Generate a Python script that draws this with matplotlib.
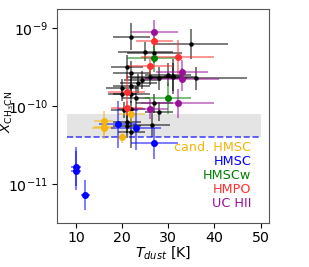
# CH3CN abundance vs dust temperature

import numpy as np
import matplotlib.pyplot as plt

# ============================================================
# 1. DATA  (x = T_dust [K], log10 abundance, xerr [K], yerr [dex])
# ============================================================

# ---- sources without class (black) ----
T_black    = [22, 35, 25, 27, 21, 22, 30, 31, 26, 28, 36, 24.4, 23.5, 22, 20,
              22, 20, 23, 27, 22, 20.5, 28, 21, 21, 26.4, 22, 31]
logX_black = [-9.115, -9.204, -9.306, -9.327, -9.50, -9.58, -9.60, -9.626, -9.626,
              -9.646, -9.646, -9.668, -9.71, -9.75, -9.77, -9.84, -9.84, -9.90,
              -9.966, -10.04, -10.05, -10.07, -10.20, -10.26, -10.24, -10.33, -9.62]
dT_black   = [4, 8, 6, 6, 3.5, 4, 5, 5, 5, 6, 11, 4, 4, 4, 3.5,
              4, 3, 3, 4, 3, 3, 3, 3, 3, 4, 3, 2]
dX_black   = [0.17, 0.19, 0.12, 0.12, 0.15, 0.15, 0.15, 0.18, 0.10, 0.15, 0.15,
              0.12, 0.12, 0.15, 0.12, 0.12, 0.10, 0.15, 0.12, 0.10, 0.10, 0.12,
              0.15, 0.15, 0.15, 0.20, 0.22]

# ---- cand. HMSC ----
T_cand    = [22, 16, 16, 16, 20]
logX_cand = [-10.10, -10.19, -10.285, -10.27, -10.40]
dT_cand   = [3, 2, 2.5, 2, 1]
dX_cand   = [0.10, 0.13, 0.13, 0.10, 0.07]

# ---- HMSC ----
T_hmsc    = [19, 23, 27, 10, 10, 12]
logX_hmsc = [-10.23, -10.285, -10.476, -10.775, -10.826, -11.137]
dT_hmsc   = [4, 5.5, 5, 1, 1, 1]
dX_hmsc   = [0.30, 0.27, 0.20, 0.25, 0.25, 0.19]

# ---- HMSCw ----
T_hmscw    = [27, 30]
logX_hmscw = [-9.39, -9.90]
dT_hmscw   = [6, 5]
dX_hmscw   = [0.17, 0.20]

# ---- HMPO ----
T_hmpo    = [27, 32, 26, 21, 21]
logX_hmpo = [-9.17, -9.37, -9.485, -9.817, -10.03]
dT_hmpo   = [4, 8, 5, 4, 3.5]
dX_hmpo   = [0.07, 0.22, 0.10, 0.21, 0.10]

# ---- UC HII ----
T_uchii    = [27, 33, 33, 32, 26]
logX_uchii = [-9.05, -9.56, -9.66, -9.966, -10.04]
dT_uchii   = [5, 5.7, 8, 8, 4]
dX_uchii   = [0.15, 0.15, 0.15, 0.18, 0.13]

# ---- model range (gray band) ----
band_T = [8, 50]
band_lo = 4.0e-11
band_hi = 8.0e-11

labels      = ["cand. HMSC", "HMSC", "HMSCw", "HMPO", "UC HII"]
label_logy  = [-10.532, -10.711, -10.89, -11.07, -11.24]

c_cand  = '#f5b50a'
c_hmsc  = 'blue'
c_hmscw = 'green'
c_hmpo  = '#ff3030'
c_uchii = '#9b109b'
label_colors = [c_cand, c_hmsc, c_hmscw, c_hmpo, c_uchii]


# ============================================================
# 2. PLOT
# ============================================================

plt.rcParams['font.size'] = 10

fig = plt.figure(figsize=(3.09, 2.67), dpi=100)
ax = fig.add_axes([0.183, 0.166, 0.689, 0.799])


def plot_group(T, logX, dT, dX, color, ms):
    T = np.array(T, dtype=float)
    y = 10 ** np.array(logX)
    d = np.array(dX)
    yerr = [y - y / 10 ** d, y * 10 ** d - y]
    ax.errorbar(T, y, xerr=dT, yerr=yerr, fmt='none', ecolor=color,
                elinewidth=1.2, alpha=0.6, zorder=3)
    ax.plot(T, y, 'o', color=color, markersize=ms, zorder=4)


ax.fill_between(band_T, band_lo, band_hi, color='lightgray', alpha=0.6, lw=0, zorder=1)
ax.plot(band_T, [band_lo, band_lo], '--', color='blue', alpha=0.7, lw=1.2, zorder=2)

plot_group(T_black, logX_black, dT_black, dX_black, 'black', 2.2)
plot_group(T_cand, logX_cand, dT_cand, dX_cand, c_cand, 4)
plot_group(T_hmsc, logX_hmsc, dT_hmsc, dX_hmsc, c_hmsc, 4)
plot_group(T_hmscw, logX_hmscw, dT_hmscw, dX_hmscw, c_hmscw, 4)
plot_group(T_hmpo, logX_hmpo, dT_hmpo, dX_hmpo, c_hmpo, 4)
plot_group(T_uchii, logX_uchii, dT_uchii, dX_uchii, c_uchii, 4)

for lab, ly, col in zip(labels, label_logy, label_colors):
    ax.text(48.0, 10 ** ly, lab, color=col, ha='right', va='center', fontsize=9.2)

ax.set_yscale('log')
ax.set_xlim(5.8, 51.9)
ax.set_ylim(3.24e-12, 1.72e-9)
ax.set_xticks([10, 20, 30, 40, 50])
ax.minorticks_off()
ax.tick_params(labelsize=10.2, pad=2.5)
ax.set_xlabel(r'$T_{dust}$ [K]', fontsize=10.2)
ax.set_ylabel(r'$X_{\mathrm{CH_3CN}}$', fontsize=9.5)
ax.xaxis.set_label_coords(0.5, -0.1)
ax.yaxis.set_label_coords(-0.19, 0.52)

for sp in ax.spines.values():
    sp.set_color('#555555')

fig.savefig('out.png', dpi=100)
